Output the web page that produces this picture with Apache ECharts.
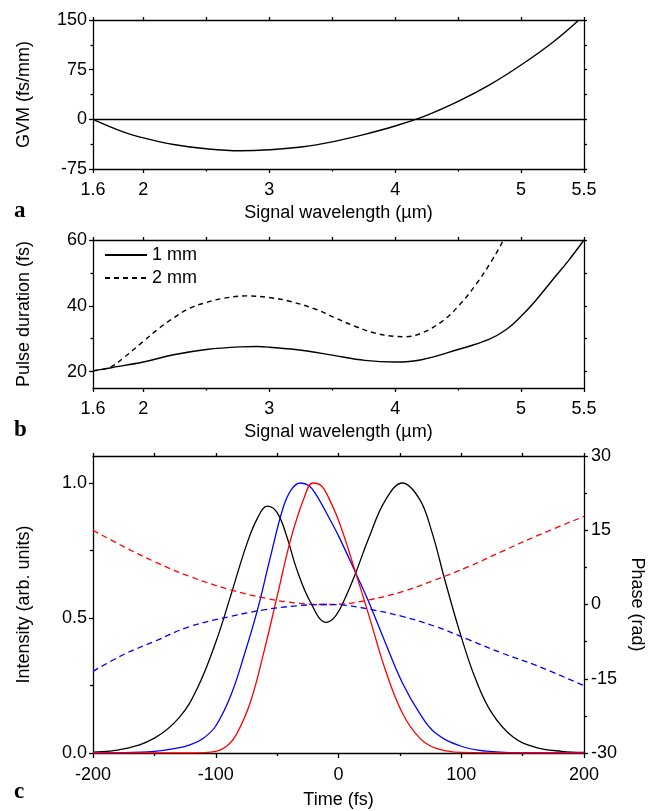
<!DOCTYPE html>
<html>
<head>
<meta charset="utf-8">
<script src="https://cdn.jsdelivr.net/npm/echarts@6/dist/echarts.min.js"></script>
<style>
html,body{margin:0;padding:0;background:#fff;}
#chart{width:657px;height:811px;}
</style>
</head>
<body>
<div id="chart"></div>
<script>
// ---------- Panel a: GVM ----------
const gvmWavelength = [1.6, 1.84, 2.0, 2.24, 2.5, 2.77, 3.0, 3.27, 3.5, 3.75, 4.0, 4.25, 4.5, 4.75, 5.0, 5.25, 5.46];
const gvmValues     = [0, -19, -28, -38, -44.5, -47.5, -46, -41.5, -34, -23, -10, 6, 27, 52, 82, 116, 150];

// ---------- Panel b: pulse duration ----------
const dur1Wavelength = [1.6, 1.735, 2.0, 2.24, 2.5, 2.77, 2.9, 3.0, 3.27, 3.5, 3.76, 4.0, 4.21, 4.5, 4.74, 4.88, 5.0, 5.11, 5.24, 5.38, 5.5];
const dur1Values     = [20.2, 21.1, 22.9, 25.1, 26.7, 27.5, 27.6, 27.4, 26.4, 25.0, 23.4, 22.9, 23.6, 26.7, 29.7, 32.7, 36.8, 41.3, 47.4, 53.9, 60];
const dur2Wavelength = [1.6, 1.735, 1.84, 2.0, 2.11, 2.24, 2.37, 2.5, 2.64, 2.82, 3.0, 3.17, 3.38, 3.525, 3.685, 3.84, 4.0, 4.08, 4.21, 4.37, 4.5, 4.64, 4.77, 4.86, 4.92];
const dur2Values     = [20.2, 21.3, 24.1, 29.2, 32.7, 36.3, 39.3, 41.0, 42.3, 43.0, 42.5, 41.3, 38.8, 36.3, 33.7, 31.7, 30.7, 30.6, 31.7, 35.2, 39.8, 46.4, 53.9, 60, 65];
const legendNames = ['1 mm', '2 mm'];

// ---------- Panel c: intensity & phase ----------
const blackTime = [-200, -175, -150, -130, -115, -100, -88, -75, -66, -58, -50, -42, -34, -23, -10, -2, 6, 14, 25, 38, 52, 66, 76, 87, 100, 112, 125, 142, 160, 182, 200];
const blackInt  = [0.003, 0.015, 0.055, 0.13, 0.24, 0.41, 0.58, 0.77, 0.87, 0.914, 0.89, 0.80, 0.68, 0.56, 0.484, 0.51, 0.58, 0.667, 0.80, 0.935, 1.0, 0.94, 0.82, 0.635, 0.43, 0.27, 0.148, 0.06, 0.022, 0.006, 0.002];
const blueTime  = [-200, -175, -150, -135, -121, -110, -100, -88, -77, -66, -56, -45, -38, -31, -24, -18, -7, 1, 14, 25, 38, 52, 66, 79, 100, 120, 150, 200];
const blueInt   = [0, 0.001, 0.006, 0.015, 0.03, 0.055, 0.10, 0.21, 0.36, 0.53, 0.716, 0.91, 0.978, 1.0, 0.99, 0.955, 0.865, 0.795, 0.667, 0.556, 0.41, 0.26, 0.148, 0.074, 0.025, 0.007, 0.001, 0];
const redTime   = [-200, -150, -120, -100, -90, -83, -72, -61, -50, -39, -28, -21, -14, -8, 1, 14, 25, 38, 52, 66, 79, 100, 150, 200];
const redInt    = [0, 0, 0, 0.006, 0.03, 0.07, 0.185, 0.37, 0.58, 0.79, 0.945, 1.0, 0.99, 0.945, 0.85, 0.667, 0.506, 0.31, 0.148, 0.056, 0.018, 0.002, 0, 0];
const phaseTime = [-200, -175, -150, -121, -88, -61, -34, -12, 0, 25, 52, 79, 106, 133, 160, 200];
const redPhase  = [15.0, 11.7, 8.67, 5.65, 2.96, 1.34, 0.27, 0, 0.05, 0.94, 2.6, 5.0, 7.66, 10.7, 13.7, 17.8];
const bluePhase = [-13.5, -10.1, -7.46, -4.44, -2.42, -1.08, -0.27, 0, -0.05, -0.94, -2.42, -4.44, -7.1, -9.8, -12.2, -16.4];

// tick label values
const wlLabels = [1.6, 2, 3, 4, 5, 5.5];
const wlMinor = [2.5, 3.5, 4.5];
const wlAll = [1.6, 2, 2.5, 3, 3.5, 4, 4.5, 5, 5.5];
const gvmTicks = {min: -75, max: 150, interval: 75};
const durLabels = [20, 40, 60];
const durMinor = [30, 50];
const durAll = [20, 30, 40, 50, 60];
const intLabels = [0, 0.5, 1.0];
const intMinor = [0.25, 0.75];

function pairs(xs, ys) { return xs.map((x, i) => [x, ys[i]]); }

const FONT = 'Liberation Sans, Arial, sans-serif';
const AX = {color: '#000', width: 1.3};
const LINE = {onZero: false, lineStyle: AX};
const lbl = {color: '#000', fontSize: 18, fontFamily: FONT};
const nameStyle = {color: '#000', fontSize: 18, fontFamily: FONT};

const gA = {left: 93, width: 491, top: 20, height: 149};
const gB = {left: 93, width: 491, top: 240, height: 148};
const gC = {left: 93, width: 491, top: 456, height: 297};

const option = {
  animation: false,
  backgroundColor: '#fff',
  grid: [gA, gB, gC, Object.assign({}, gA), Object.assign({}, gB), Object.assign({}, gC)],
  legend: {
    data: legendNames, orient: 'vertical', left: 104, top: 246, padding: 0,
    itemWidth: 42, itemHeight: 16, itemGap: 5,
    itemStyle: {color: 'rgba(0,0,0,0)', borderColor: 'rgba(0,0,0,0)', borderWidth: 0, opacity: 0},
    textStyle: {color: '#000', fontSize: 18, fontFamily: FONT},
    inactiveColor: '#000'
  },
  xAxis: [
    {gridIndex: 0, type: 'value', position: 'bottom', min: 1.6, max: 5.5,
     axisLine: LINE, splitLine: {show: false},
     axisTick: {customValues: wlLabels, length: 4, lineStyle: AX},
     axisLabel: Object.assign({customValues: wlLabels, margin: 12, formatter: v => String(v)}, lbl),
     name: 'Signal wavelength (µm)', nameLocation: 'middle', nameGap: 35, nameTextStyle: nameStyle},
    {gridIndex: 0, type: 'value', position: 'top', min: 1.6, max: 5.5,
     axisLine: LINE, splitLine: {show: false},
     axisTick: {customValues: wlAll, length: 3, lineStyle: AX},
     axisLabel: {show: false}},
    {gridIndex: 3, type: 'value', position: 'bottom', min: 1.6, max: 5.5,
     axisLine: {show: false, onZero: false}, splitLine: {show: false},
     axisTick: {customValues: wlMinor, length: 2.5, lineStyle: AX},
     axisLabel: {show: false}},
    {gridIndex: 1, type: 'value', position: 'bottom', min: 1.6, max: 5.5,
     axisLine: LINE, splitLine: {show: false},
     axisTick: {customValues: wlLabels, length: 4, lineStyle: AX},
     axisLabel: Object.assign({customValues: wlLabels, margin: 12, formatter: v => String(v)}, lbl),
     name: 'Signal wavelength (µm)', nameLocation: 'middle', nameGap: 35, nameTextStyle: nameStyle},
    {gridIndex: 1, type: 'value', position: 'top', min: 1.6, max: 5.5,
     axisLine: LINE, splitLine: {show: false},
     axisTick: {customValues: wlAll, length: 3, lineStyle: AX},
     axisLabel: {show: false}},
    {gridIndex: 4, type: 'value', position: 'bottom', min: 1.6, max: 5.5,
     axisLine: {show: false, onZero: false}, splitLine: {show: false},
     axisTick: {customValues: wlMinor, length: 2.5, lineStyle: AX},
     axisLabel: {show: false}},
    {gridIndex: 2, type: 'value', position: 'bottom', min: -200, max: 200, interval: 100,
     axisLine: LINE, splitLine: {show: false},
     axisTick: {length: 5, lineStyle: AX},
     minorTick: {show: true, splitNumber: 2, length: 3, lineStyle: AX},
     axisLabel: Object.assign({margin: 13}, lbl),
     name: 'Time (fs)', nameLocation: 'middle', nameGap: 38, nameTextStyle: nameStyle},
    {gridIndex: 2, type: 'value', position: 'top', min: -200, max: 200, interval: 100,
     axisLine: LINE, splitLine: {show: false},
     axisTick: {length: 3, lineStyle: AX},
     minorTick: {show: true, splitNumber: 2, length: 3, lineStyle: AX},
     axisLabel: {show: false}},
    {gridIndex: 5, type: 'value', min: -200, max: 200, show: false, axisLine: {onZero: false}}
  ],
  yAxis: [
    {gridIndex: 0, type: 'value', position: 'left', min: gvmTicks.min, max: gvmTicks.max, interval: gvmTicks.interval,
     axisLine: LINE, splitLine: {show: false},
     axisTick: {length: 4, lineStyle: AX},
     minorTick: {show: true, splitNumber: 2, length: 2.5, lineStyle: AX},
     axisLabel: Object.assign({margin: 6}, lbl),
     name: 'GVM (fs/mm)', nameLocation: 'middle', nameGap: 60, nameTextStyle: nameStyle},
    {gridIndex: 0, type: 'value', position: 'right', min: gvmTicks.min, max: gvmTicks.max, interval: gvmTicks.interval,
     axisLine: LINE, splitLine: {show: false},
     axisTick: {length: 3, lineStyle: AX},
     minorTick: {show: true, splitNumber: 2, length: 3, lineStyle: AX},
     axisLabel: {show: false}},
    {gridIndex: 3, type: 'value', min: gvmTicks.min, max: gvmTicks.max, show: false, axisLine: {onZero: false}},
    {gridIndex: 1, type: 'value', position: 'left', min: 15, max: 60,
     axisLine: LINE, splitLine: {show: false},
     axisTick: {customValues: durLabels, length: 4, lineStyle: AX},
     axisLabel: Object.assign({customValues: durLabels, margin: 6}, lbl),
     name: 'Pulse duration (fs)', nameLocation: 'middle', nameGap: 60, nameTextStyle: nameStyle},
    {gridIndex: 1, type: 'value', position: 'right', min: 15, max: 60,
     axisLine: LINE, splitLine: {show: false},
     axisTick: {customValues: durAll, length: 3, lineStyle: AX},
     axisLabel: {show: false}},
    {gridIndex: 4, type: 'value', position: 'left', min: 15, max: 60,
     axisLine: {show: false, onZero: false}, splitLine: {show: false},
     axisTick: {customValues: durMinor, length: 2.5, lineStyle: AX},
     axisLabel: {show: false}},
    {gridIndex: 2, type: 'value', position: 'left', min: 0, max: 1.1,
     axisLine: LINE, splitLine: {show: false},
     axisTick: {customValues: intLabels, length: 4, lineStyle: AX},
     axisLabel: Object.assign({customValues: intLabels, margin: 6, formatter: v => v.toFixed(1)}, lbl),
     name: 'Intensity (arb. units)', nameLocation: 'middle', nameGap: 60, nameTextStyle: nameStyle},
    {gridIndex: 2, type: 'value', position: 'right', min: -30, max: 30, interval: 15,
     axisLine: LINE, splitLine: {show: false},
     axisTick: {length: 4, lineStyle: AX},
     minorTick: {show: true, splitNumber: 2, length: 3, lineStyle: AX},
     axisLabel: Object.assign({margin: 7}, lbl),
     name: 'Phase (rad)', nameLocation: 'middle', nameGap: 42, nameRotate: -90, nameTextStyle: nameStyle},
    {gridIndex: 5, type: 'value', position: 'left', min: 0, max: 1.1,
     axisLine: {show: false, onZero: false}, splitLine: {show: false},
     axisTick: {customValues: intMinor, length: 3, lineStyle: AX},
     axisLabel: {show: false}}
  ],
  series: [
    {type: 'line', name: 'GVM', xAxisIndex: 0, yAxisIndex: 0, data: pairs(gvmWavelength, gvmValues),
     smooth: 0.4, symbol: 'none', lineStyle: {color: '#000', width: 1.4},
     markLine: {silent: true, symbol: 'none', label: {show: false}, animation: false,
       lineStyle: {color: '#000', type: 'solid', width: 1.3}, data: [{yAxis: 0}]}},
    {type: 'line', name: legendNames[0], xAxisIndex: 3, yAxisIndex: 3, data: pairs(dur1Wavelength, dur1Values),
     smooth: 0.4, symbol: 'none', color: '#000', lineStyle: {color: '#000', width: 1.4}},
    {type: 'line', name: legendNames[1], xAxisIndex: 3, yAxisIndex: 3, data: pairs(dur2Wavelength, dur2Values),
     smooth: 0.4, symbol: 'none', color: '#000', lineStyle: {color: '#000', width: 1.4, type: [5, 4]}},
    {type: 'line', name: 'black', xAxisIndex: 6, yAxisIndex: 6, data: pairs(blackTime, blackInt),
     smooth: 0.4, symbol: 'none', lineStyle: {color: '#000', width: 1.3}},
    {type: 'line', name: 'blue', xAxisIndex: 6, yAxisIndex: 6, data: pairs(blueTime, blueInt),
     smooth: 0.4, symbol: 'none', lineStyle: {color: '#0000ff', width: 1.3}},
    {type: 'line', name: 'red', xAxisIndex: 6, yAxisIndex: 6, data: pairs(redTime, redInt),
     smooth: 0.4, symbol: 'none', lineStyle: {color: '#ff0000', width: 1.3}},
    {type: 'line', name: 'redPhase', xAxisIndex: 6, yAxisIndex: 7, data: pairs(phaseTime, redPhase),
     smooth: 0.4, symbol: 'none', lineStyle: {color: '#ff0000', width: 1.3, type: [6, 4]}},
    {type: 'line', name: 'bluePhase', xAxisIndex: 6, yAxisIndex: 7, data: pairs(phaseTime, bluePhase),
     smooth: 0.4, symbol: 'none', lineStyle: {color: '#0000ff', width: 1.3, type: [6, 4]}}
  ],
  graphic: [
    {type: 'text', left: 14, top: 200, style: {text: 'a', font: 'bold 23px "Liberation Serif", "Times New Roman", serif', fill: '#000'}},
    {type: 'text', left: 14, top: 419, style: {text: 'b', font: 'bold 23px "Liberation Serif", "Times New Roman", serif', fill: '#000'}},
    {type: 'text', left: 14, top: 781, style: {text: 'c', font: 'bold 23px "Liberation Serif", "Times New Roman", serif', fill: '#000'}}
  ]
};

const chart = echarts.init(document.getElementById('chart'), null, {renderer: 'canvas'});
chart.setOption(option);
</script>
</body>
</html>
